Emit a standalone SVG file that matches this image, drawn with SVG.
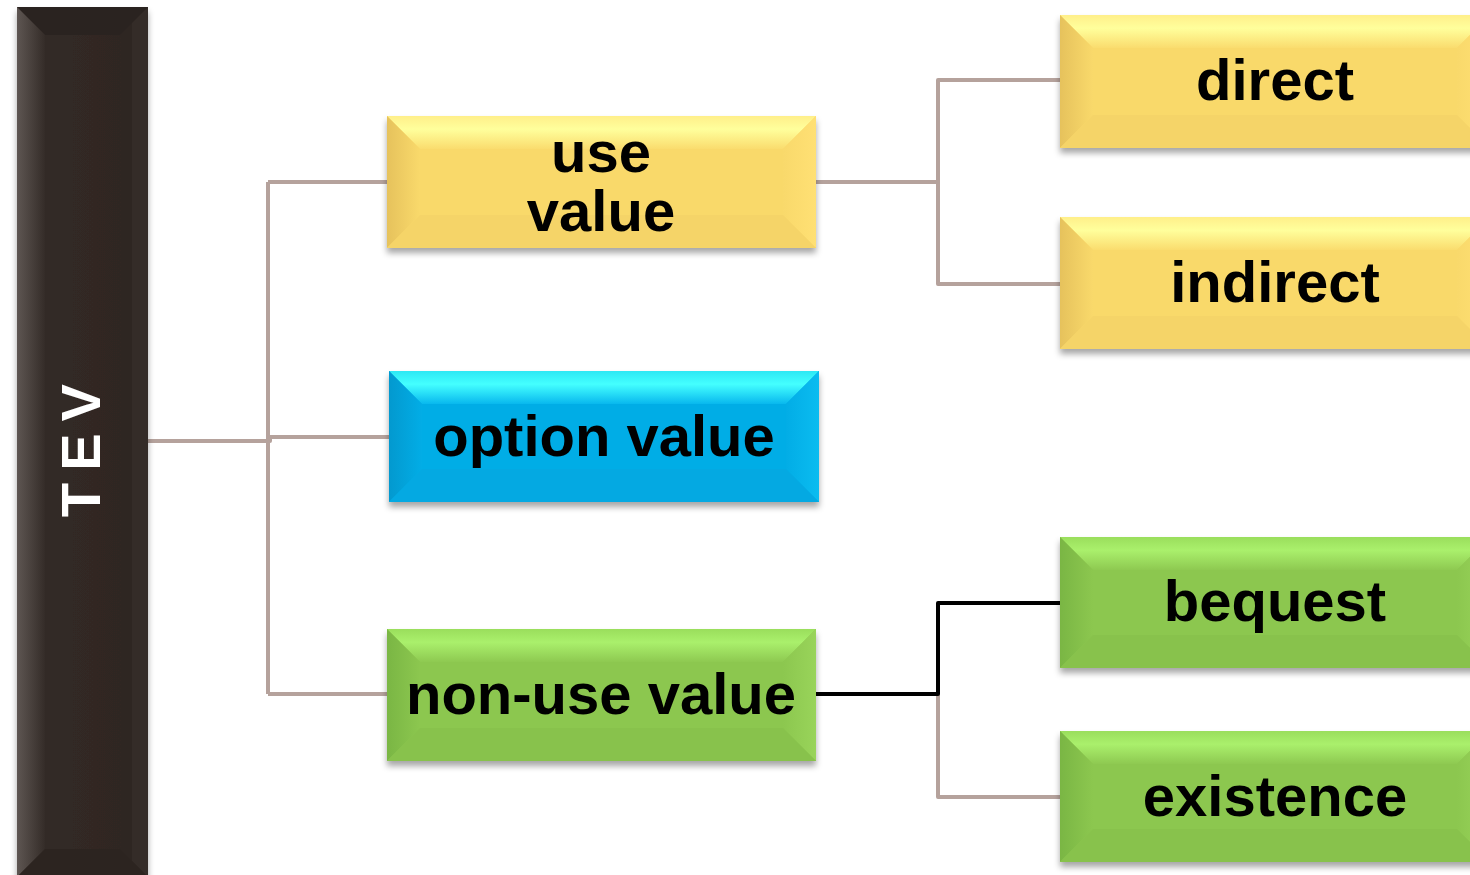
<svg xmlns="http://www.w3.org/2000/svg" width="1470" height="875" viewBox="0 0 1470 875">
<style>
.lbl{font-family:"Liberation Sans",Arial,sans-serif;font-weight:bold;font-size:58px;fill:#000;text-anchor:middle}
.con{fill:none;stroke:#b5a29c;stroke-width:4;stroke-linejoin:round}
.conk{fill:none;stroke:#000;stroke-width:4;stroke-linejoin:round}
</style>
<defs>
<filter id="sh" x="-5%" y="-10%" width="110%" height="130%">
<feDropShadow dx="0" dy="5" stdDeviation="3" flood-color="#000" flood-opacity="0.35"/>
</filter>
<linearGradient id="yT" x1="0" y1="0" x2="0" y2="1"><stop offset="0" stop-color="#ffef8a"/><stop offset="0.4" stop-color="#ffff9c"/><stop offset="1" stop-color="#fadc6e"/></linearGradient>
<linearGradient id="yL" x1="0" y1="0" x2="1" y2="0"><stop offset="0" stop-color="#e6c25c"/><stop offset="1" stop-color="#f9d96b"/></linearGradient>
<linearGradient id="yR" x1="0" y1="0" x2="1" y2="0"><stop offset="0" stop-color="#f9d96b"/><stop offset="1" stop-color="#ffe074"/></linearGradient>
<linearGradient id="bT" x1="0" y1="0" x2="0" y2="1"><stop offset="0" stop-color="#2ee8f4"/><stop offset="0.4" stop-color="#44ffff"/><stop offset="1" stop-color="#08b8ee"/></linearGradient>
<linearGradient id="bL" x1="0" y1="0" x2="1" y2="0"><stop offset="0" stop-color="#0399cf"/><stop offset="1" stop-color="#02ade6"/></linearGradient>
<linearGradient id="bR" x1="0" y1="0" x2="1" y2="0"><stop offset="0" stop-color="#02ade6"/><stop offset="1" stop-color="#0bbcf0"/></linearGradient>
<linearGradient id="gT" x1="0" y1="0" x2="0" y2="1"><stop offset="0" stop-color="#9ade5c"/><stop offset="0.4" stop-color="#aaf06c"/><stop offset="1" stop-color="#8ec951"/></linearGradient>
<linearGradient id="gL" x1="0" y1="0" x2="1" y2="0"><stop offset="0" stop-color="#7ab644"/><stop offset="1" stop-color="#8cc74f"/></linearGradient>
<linearGradient id="gR" x1="0" y1="0" x2="1" y2="0"><stop offset="0" stop-color="#8cc74f"/><stop offset="1" stop-color="#99d45a"/></linearGradient>
<linearGradient id="dL" x1="0" y1="0" x2="1" y2="0"><stop offset="0" stop-color="#5e5652"/><stop offset="1" stop-color="#342c28"/></linearGradient>
<linearGradient id="dB" x1="0" y1="0" x2="1" y2="0"><stop offset="0" stop-color="#332b27"/><stop offset="1" stop-color="#2e2622"/></linearGradient>
</defs>

<g id="connectors">
<path class="con" d="M148,441 H270 V437 H389"/>
<path class="con" d="M268,182 V694"/>
<path class="con" d="M268,182 H387"/>
<path class="con" d="M268,694 H387"/>
<path class="con" d="M816,182 H938"/>
<path class="con" d="M1060,80 H938 V284 H1060"/>
<path class="con" d="M938,694 V797 H1060"/>
<path class="conk" d="M816,694 H938 V603 H1060"/>
</g>

<g id="tev">
<rect x="17" y="7" width="131" height="870" fill="url(#dB)" filter="url(#sh)"/>
<polygon points="17,7 148,7 120,35 45,35" fill="#2a2320"/>
<polygon points="17,7 45,35 45,849 17,877" fill="url(#dL)"/>
<polygon points="148,7 148,877 132,861 132,23" fill="#3a322e" opacity="0.5"/>
<polygon points="17,877 45,849 120,849 148,877" fill="#2c2420"/>
<text x="0" y="0" transform="translate(100,517) rotate(-90)" style="font-family:'Liberation Sans',Arial,sans-serif;font-weight:bold;font-size:56px;fill:#fff;letter-spacing:12px">TEV</text>
</g>

<g id="use-value">
<rect x="387" y="116" width="429" height="132" fill="#f9d96b" filter="url(#sh)"/>
<polygon points="387,116 816,116 783,149 420,149" fill="url(#yT)"/>
<polygon points="387,116 420,149 420,215 387,248" fill="url(#yL)"/>
<polygon points="816,116 816,248 783,215 783,149" fill="url(#yR)"/>
<polygon points="387,248 420,215 783,215 816,248" fill="#f5d468"/>
<text class="lbl" x="601" y="172">use</text>
<text class="lbl" x="601" y="231">value</text>
</g>

<g id="option-value">
<rect x="389" y="371" width="430" height="131" fill="#02ade6" filter="url(#sh)"/>
<polygon points="389,371 819,371 786,404 422,404" fill="url(#bT)"/>
<polygon points="389,371 422,404 422,469 389,502" fill="url(#bL)"/>
<polygon points="819,371 819,502 786,469 786,404" fill="url(#bR)"/>
<polygon points="389,502 422,469 786,469 819,502" fill="#04a9e2"/>
<text class="lbl" x="604" y="456">option value</text>
</g>

<g id="non-use-value">
<rect x="387" y="629" width="429" height="132" fill="#8cc74f" filter="url(#sh)"/>
<polygon points="387,629 816,629 783,662 420,662" fill="url(#gT)"/>
<polygon points="387,629 420,662 420,728 387,761" fill="url(#gL)"/>
<polygon points="816,629 816,761 783,728 783,662" fill="url(#gR)"/>
<polygon points="387,761 420,728 783,728 816,761" fill="#88c24c"/>
<text class="lbl" x="601" y="714">non-use value</text>
</g>

<g id="direct">
<rect x="1060" y="15" width="430" height="133" fill="#f9d96b" filter="url(#sh)"/>
<polygon points="1060,15 1490,15 1457,48 1093,48" fill="url(#yT)"/>
<polygon points="1060,15 1093,48 1093,115 1060,148" fill="url(#yL)"/>
<polygon points="1490,15 1490,148 1457,115 1457,48" fill="url(#yR)"/>
<polygon points="1060,148 1093,115 1457,115 1490,148" fill="#f5d468"/>
<text class="lbl" x="1275" y="100">direct</text>
</g>

<g id="indirect">
<rect x="1060" y="217" width="430" height="132" fill="#f9d96b" filter="url(#sh)"/>
<polygon points="1060,217 1490,217 1457,250 1093,250" fill="url(#yT)"/>
<polygon points="1060,217 1093,250 1093,316 1060,349" fill="url(#yL)"/>
<polygon points="1490,217 1490,349 1457,316 1457,250" fill="url(#yR)"/>
<polygon points="1060,349 1093,316 1457,316 1490,349" fill="#f5d468"/>
<text class="lbl" x="1275" y="302">indirect</text>
</g>

<g id="bequest">
<rect x="1060" y="537" width="430" height="131" fill="#8cc74f" filter="url(#sh)"/>
<polygon points="1060,537 1490,537 1457,570 1093,570" fill="url(#gT)"/>
<polygon points="1060,537 1093,570 1093,635 1060,668" fill="url(#gL)"/>
<polygon points="1490,537 1490,668 1457,635 1457,570" fill="url(#gR)"/>
<polygon points="1060,668 1093,635 1457,635 1490,668" fill="#88c24c"/>
<text class="lbl" x="1275" y="621">bequest</text>
</g>

<g id="existence">
<rect x="1060" y="731" width="430" height="131" fill="#8cc74f" filter="url(#sh)"/>
<polygon points="1060,731 1490,731 1457,764 1093,764" fill="url(#gT)"/>
<polygon points="1060,731 1093,764 1093,829 1060,862" fill="url(#gL)"/>
<polygon points="1490,731 1490,862 1457,829 1457,764" fill="url(#gR)"/>
<polygon points="1060,862 1093,829 1457,829 1490,862" fill="#88c24c"/>
<text class="lbl" x="1275" y="816">existence</text>
</g>
</svg>
